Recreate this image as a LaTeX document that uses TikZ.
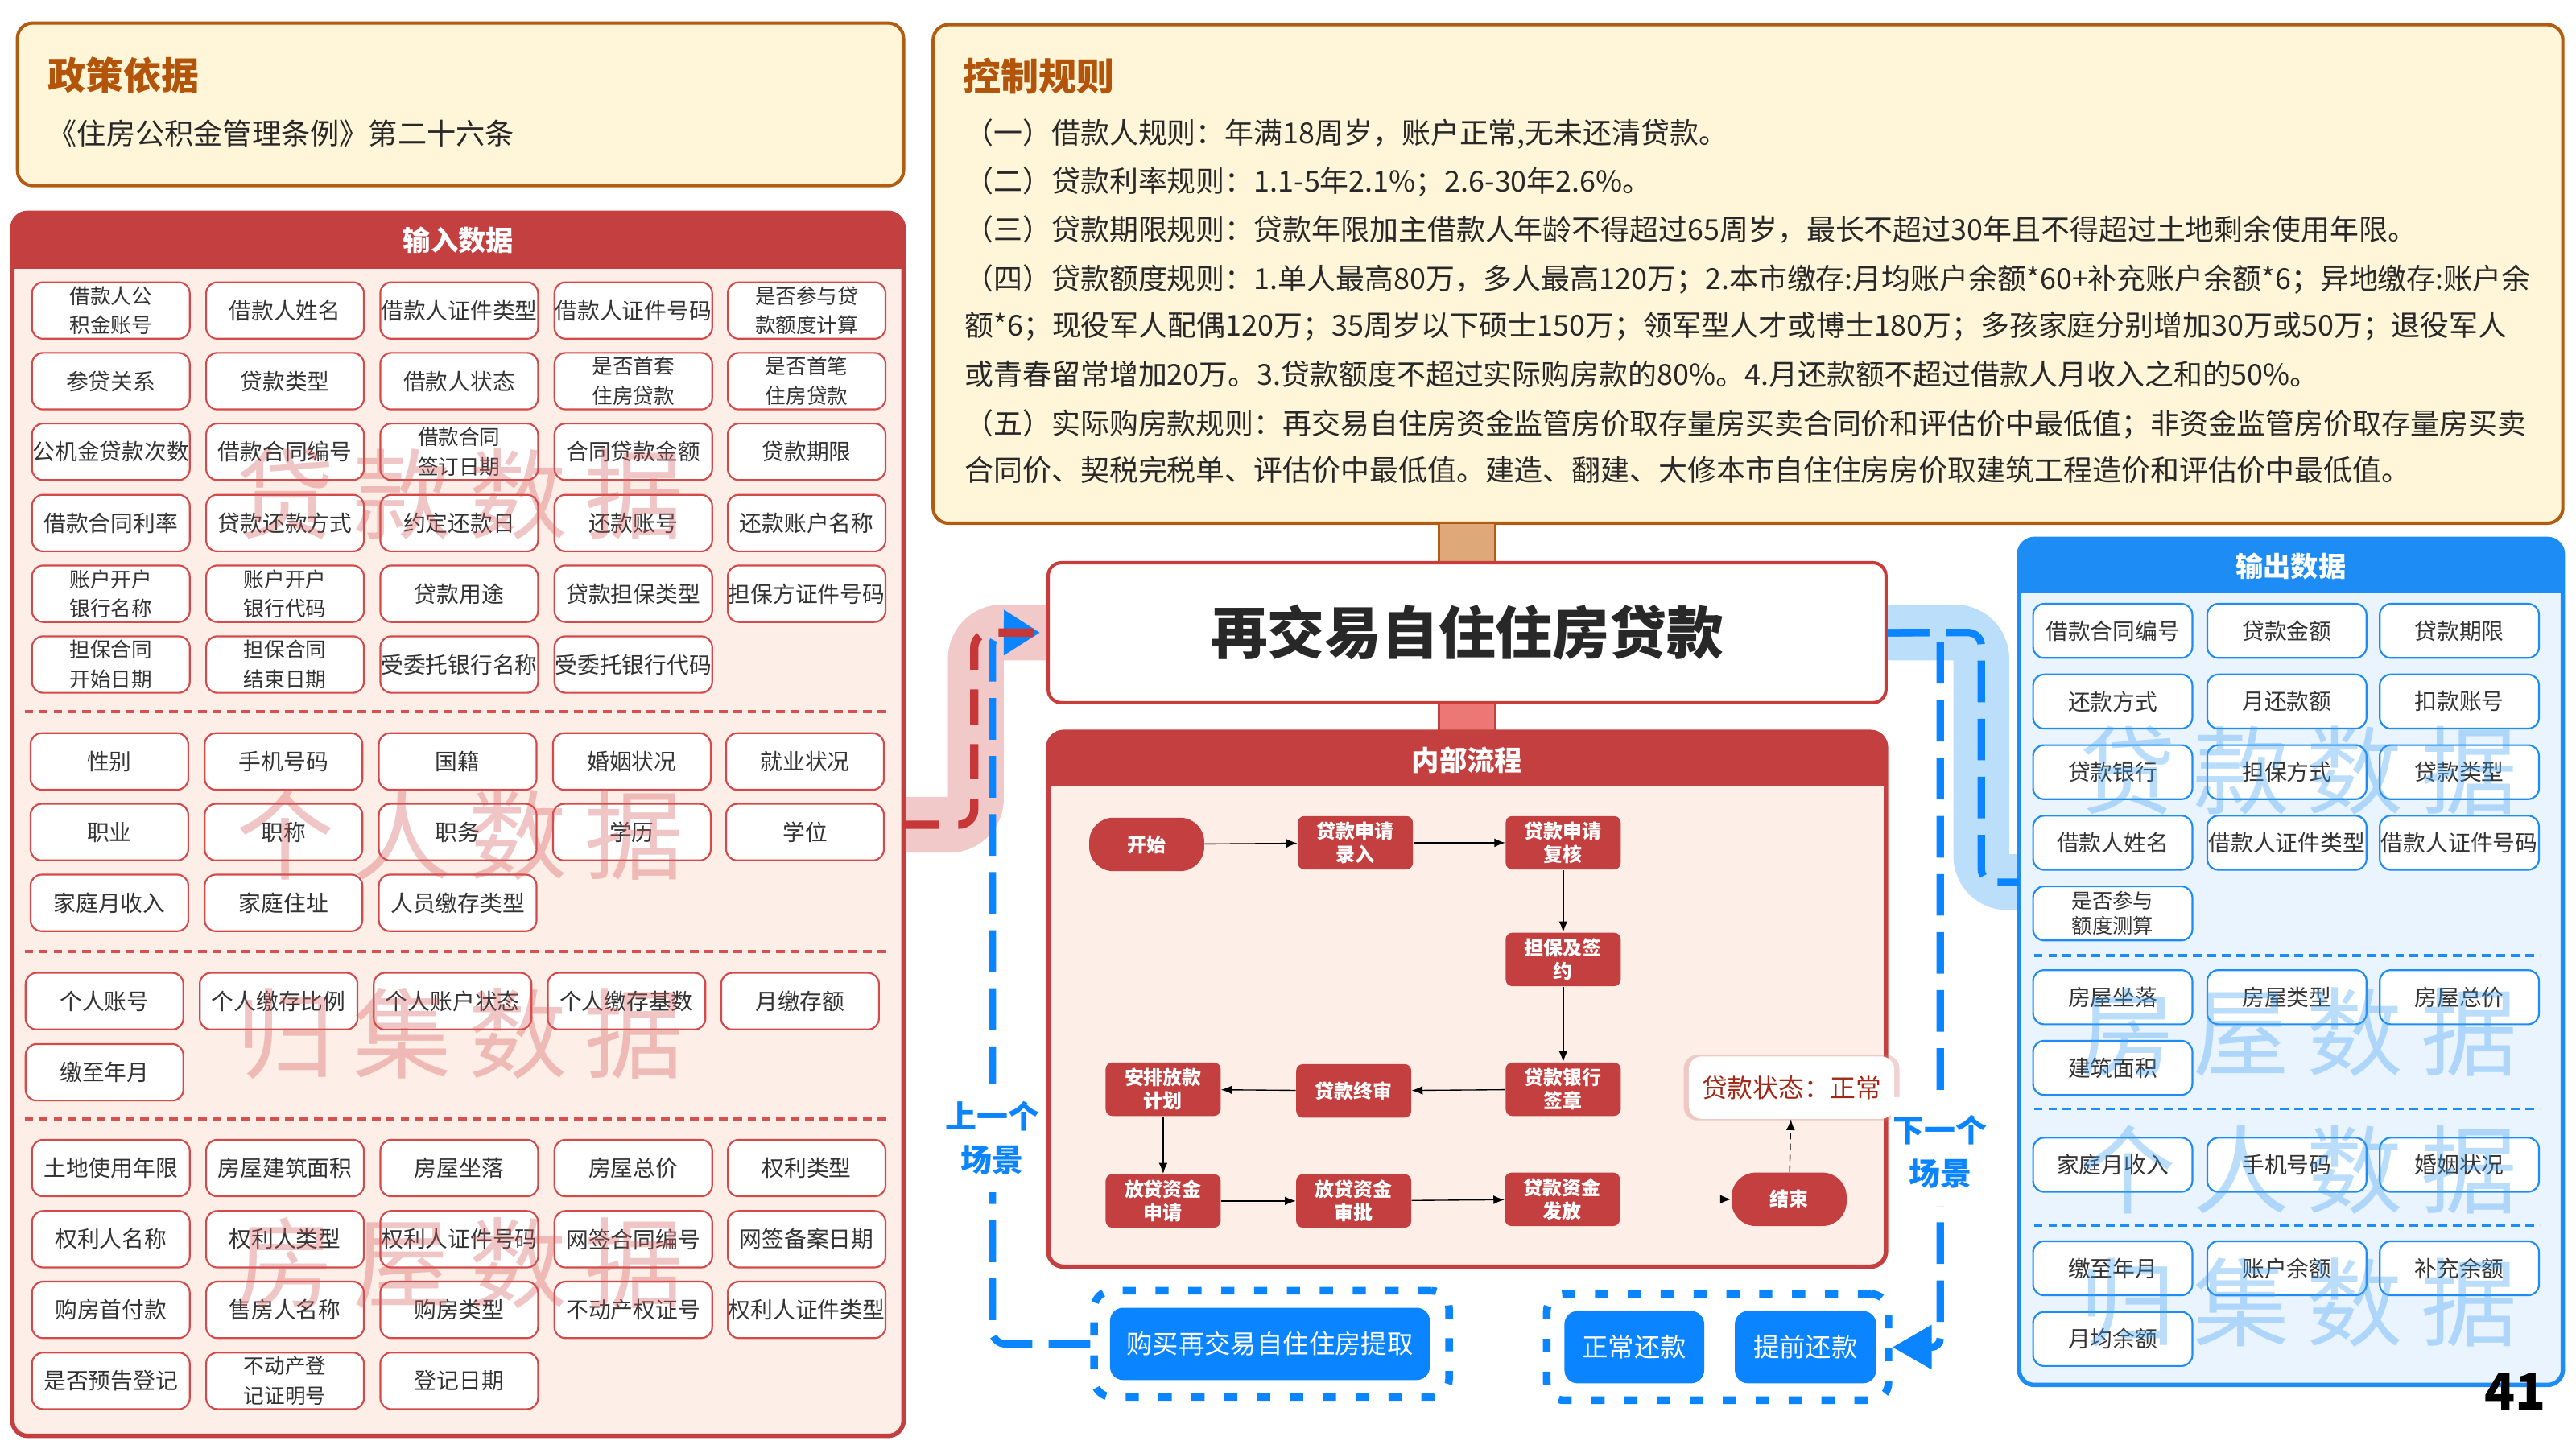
\documentclass[tikz,border=0pt]{standalone}
\usepackage{fontspec}
\setmainfont{Noto Sans CJK SC}
\usetikzlibrary{arrows.meta,shadows}

\begin{document}
\begin{tikzpicture}[x=0.75pt,y=0.75pt,yscale=-1,xscale=1,
        ibox/.style={draw={rgb, 255:red, 212; green, 74; blue, 74 }, line width=0.8pt, fill=white, rounded corners=5pt, minimum width=72pt, minimum height=25.8pt, inner sep=0pt, align=center, text={rgb, 255:red, 51; green, 51; blue, 51 }, font=\fontsize{10.2pt}{12pt}\selectfont},
        twoline/.style={font=\fontsize{9.4pt}{13.4pt}\selectfont},
        obox/.style={ibox, draw={rgb, 255:red, 30; green, 140; blue, 245 }, minimum width=72.7pt, minimum height=24.7pt},
        pbox/.style={fill={rgb, 255:red, 196; green, 64; blue, 64 }, rounded corners=3pt, minimum width=52.5pt, minimum height=24.4pt, inner sep=0pt, align=center, text=white, font=\bfseries\fontsize{8.8pt}{10.6pt}\selectfont},
        pend/.style={pbox, rounded corners=11pt},
        bbox/.style={fill={rgb, 255:red, 10; green, 132; blue, 255 }, rounded corners=6pt, minimum height=33pt, inner sep=0pt, text=white, font=\fontsize{11.9pt}{14pt}\selectfont},
        grpbox/.style={draw={rgb, 255:red, 10; green, 132; blue, 255 }, fill=white, line width=3.5pt, dash pattern=on 6pt off 9pt, rounded corners=8pt, minimum height=48.5pt},
        flow/.style={line width=0.5pt, -{Latex[length=5pt,width=4pt]}},
        redline/.style={draw={rgb, 255:red, 200; green, 55; blue, 55 }, line width=3.8pt, dash pattern=on 16pt off 9pt, rounded corners=7pt},
        blueline/.style={draw={rgb, 255:red, 10; green, 132; blue, 255 }, line width=3.4pt, dash pattern=on 19pt off 7.5pt, rounded corners=6pt},
        scene/.style={fill=white, inner xsep=1pt, inner ysep=8pt, align=center, text={rgb, 255:red, 10; green, 132; blue, 255 }, font=\bfseries\fontsize{14.3pt}{19.9pt}\selectfont},
        wmred/.style={text={rgb, 255:red, 214; green, 90; blue, 90 }, text opacity=0.35, font=\fontsize{45pt}{50pt}\selectfont},
        wmblue/.style={text={rgb, 255:red, 60; green, 160; blue, 245 }, text opacity=0.35, font=\fontsize{44pt}{50pt}\selectfont},
        sepred/.style={draw={rgb, 255:red, 214; green, 80; blue, 80 }, line width=1.4pt, dash pattern=on 4pt off 2.6pt},
        sepblue/.style={sepred, draw={rgb, 255:red, 30; green, 140; blue, 245 }},
        head/.style={text=white, font=\bfseries\fontsize{12.6pt}{14pt}\selectfont},
        rule/.style={anchor=west, inner sep=0pt, text={rgb, 255:red, 40; green, 40; blue, 40 }, font=\fontsize{13.2pt}{15pt}\selectfont},
        brown title/.style={anchor=west, inner sep=0pt, text={rgb, 255:red, 178; green, 84; blue, 10 }, font=\bfseries\fontsize{17.3pt}{20pt}\selectfont}
    ]
        \useasboundingbox (0,0) rectangle (1568,882);
        \coordinate (redin) at (550,502);
        \coordinate (outin) at (1229,537);
        \coordinate (tw) at (638,385);
        \coordinate (te) at (1148,385);

        % bands behind the links
        \draw [line width=25.5pt, color={rgb, 255:red, 242; green, 201; blue, 201 }, rounded corners=12pt] (redin) -- (594,502) -- (594,385) -- (tw);
        \draw [line width=25.5pt, color={rgb, 255:red, 187; green, 222; blue, 251 }, rounded corners=12pt] (te) -- (1206,385) -- (1206,537) -- (outin);

        % policy and rules
        \draw [draw={rgb, 255:red, 178; green, 92; blue, 18 }, fill={rgb, 255:red, 255; green, 246; blue, 217 }, line width=1.5pt, rounded corners=7pt] (10.6,14) rectangle (550,113);
        \node (policyt) [brown title] at (29,46) {政策依据};
        \node (policy) [rule, font=\fontsize{13.3pt}{15pt}\selectfont] at (29,81) {《住房公积金管理条例》第二十六条};

        \draw [draw={rgb, 255:red, 178; green, 92; blue, 18 }, fill={rgb, 255:red, 255; green, 246; blue, 217 }, line width=1.5pt, rounded corners=7pt] (568,15) rectangle (1560,318.5);
        \node (rulest) [brown title] at (586,46.5) {控制规则};
        \node (r1) [rule] at (587,81.8) {（一）借款人规则：年满18周岁，账户正常,无未还清贷款。};
        \node (r2) [rule] at (587,110.7) {（二）贷款利率规则：1.1-5年2.1\%；2.6-30年2.6\%。};
        \node (r3) [rule] at (587,139.7) {（三）贷款期限规则：贷款年限加主借款人年龄不得超过65周岁，最长不超过30年且不得超过土地剩余使用年限。};
        \node (r4) [rule] at (587,169.8) {（四）贷款额度规则：1.单人最高80万，多人最高120万；2.本市缴存:月均账户余额*60+补充账户余额*6；异地缴存:账户余};
        \node (r5) [rule] at (587,198.7) {额*6；现役军人配偶120万；35周岁以下硕士150万；领军型人才或博士180万；多孩家庭分别增加30万或50万；退役军人};
        \node (r6) [rule] at (587,227.7) {或青春留常增加20万。3.贷款额度不超过实际购房款的80\%。4.月还款额不超过借款人月收入之和的50\%。};
        \node (r7) [rule] at (587,258.2) {（五）实际购房款规则：再交易自住房资金监管房价取存量房买卖合同价和评估价中最低值；非资金监管房价取存量房买卖};
        \node (r8) [rule] at (587,286) {合同价、契税完税单、评估价中最低值。建造、翻建、大修本市自住住房房价取建筑工程造价和评估价中最低值。};

        \draw [fill={rgb, 255:red, 222; green, 168; blue, 120 }, draw={rgb, 255:red, 178; green, 92; blue, 18 }, line width=1pt] (876,318.5) rectangle (910,342.5);
        \draw [fill={rgb, 255:red, 236; green, 120; blue, 118 }, draw={rgb, 255:red, 196; green, 64; blue, 64 }, line width=1pt] (876,427.7) rectangle (910,445.5);

        % input panel
        \fill [fill={rgb, 255:red, 253; green, 238; blue, 232 }, rounded corners=7pt] (7.5,129.5) rectangle (550,874);
        \fill [fill={rgb, 255:red, 196; green, 64; blue, 64 }, rounded corners=7pt] (7.5,129.5) rectangle (550,163.5);
        \fill [fill={rgb, 255:red, 196; green, 64; blue, 64 }] (7.5,145) rectangle (550,163.5);
        \draw [draw={rgb, 255:red, 196; green, 64; blue, 64 }, line width=2pt, rounded corners=7pt] (7.5,129.5) rectangle (550,874);
        \node (inhead) [head] at (279,146) {输入数据};

        \node (ia1) [ibox, twoline] at (67.5,189) {借款人公\\积金账号};
        \node (ia2) [ibox] at (173.5,189) {借款人姓名};
        \node (ia3) [ibox] at (279.5,189) {借款人证件类型};
        \node (ia4) [ibox] at (385.5,189) {借款人证件号码};
        \node (ia5) [ibox, twoline] at (491,189) {是否参与贷\\款额度计算};
        \node (ib1) [ibox] at (67.5,232) {参贷关系};
        \node (ib2) [ibox] at (173.5,232) {贷款类型};
        \node (ib3) [ibox] at (279.5,232) {借款人状态};
        \node (ib4) [ibox, twoline] at (385.5,232) {是否首套\\住房贷款};
        \node (ib5) [ibox, twoline] at (491,232) {是否首笔\\住房贷款};
        \node (ic1) [ibox] at (67.5,275) {公机金贷款次数};
        \node (ic2) [ibox] at (173.5,275) {借款合同编号};
        \node (ic3) [ibox, twoline] at (279.5,275) {借款合同\\签订日期};
        \node (ic4) [ibox] at (385.5,275) {合同贷款金额};
        \node (ic5) [ibox] at (491,275) {贷款期限};
        \node (id1) [ibox] at (67.5,318.4) {借款合同利率};
        \node (id2) [ibox] at (173.5,318.4) {贷款还款方式};
        \node (id3) [ibox] at (279.5,318.4) {约定还款日};
        \node (id4) [ibox] at (385.5,318.4) {还款账号};
        \node (id5) [ibox] at (491,318.4) {还款账户名称};
        \node (ie1) [ibox, twoline] at (67.5,361.4) {账户开户\\银行名称};
        \node (ie2) [ibox, twoline] at (173.5,361.4) {账户开户\\银行代码};
        \node (ie3) [ibox] at (279.5,361.4) {贷款用途};
        \node (ie4) [ibox] at (385.5,361.4) {贷款担保类型};
        \node (ie5) [ibox] at (491,361.4) {担保方证件号码};
        \node (if1) [ibox, twoline] at (67.5,404.5) {担保合同\\开始日期};
        \node (if2) [ibox, twoline] at (173.5,404.5) {担保合同\\结束日期};
        \node (if3) [ibox] at (279.5,404.5) {受委托银行名称};
        \node (if4) [ibox] at (385.5,404.5) {受委托银行代码};

        \draw [sepred] (15,433) -- (540,433);
        \node (pa1) [ibox] at (66.6,463.5) {性别};
        \node (pa2) [ibox] at (172.6,463.5) {手机号码};
        \node (pa3) [ibox] at (278.6,463.5) {国籍};
        \node (pa4) [ibox] at (384.6,463.5) {婚姻状况};
        \node (pa5) [ibox] at (490,463.5) {就业状况};
        \node (pb1) [ibox] at (66.6,506.5) {职业};
        \node (pb2) [ibox] at (172.6,506.5) {职称};
        \node (pb3) [ibox] at (278.6,506.5) {职务};
        \node (pb4) [ibox] at (384.6,506.5) {学历};
        \node (pb5) [ibox] at (490,506.5) {学位};
        \node (pc1) [ibox] at (66.6,549.6) {家庭月收入};
        \node (pc2) [ibox] at (172.6,549.6) {家庭住址};
        \node (pc3) [ibox] at (278.6,549.6) {人员缴存类型};

        \draw [sepred] (15,579) -- (540,579);
        \node (fa1) [ibox] at (63.6,609.4) {个人账号};
        \node (fa2) [ibox] at (169.6,609.4) {个人缴存比例};
        \node (fa3) [ibox] at (275.5,609.4) {个人账户状态};
        \node (fa4) [ibox] at (381.4,609.4) {个人缴存基数};
        \node (fa5) [ibox] at (487,609.4) {月缴存额};
        \node (fb1) [ibox] at (63.6,652.7) {缴至年月};

        \draw [sepred] (15,681) -- (540,681);
        \node (ha1) [ibox] at (67.5,711) {土地使用年限};
        \node (ha2) [ibox] at (173.5,711) {房屋建筑面积};
        \node (ha3) [ibox] at (279.5,711) {房屋坐落};
        \node (ha4) [ibox] at (385.5,711) {房屋总价};
        \node (ha5) [ibox] at (491,711) {权利类型};
        \node (hb1) [ibox] at (67.5,754.3) {权利人名称};
        \node (hb2) [ibox] at (173.5,754.3) {权利人类型};
        \node (hb3) [ibox] at (279.5,754.3) {权利人证件号码};
        \node (hb4) [ibox] at (385.5,754.3) {网签合同编号};
        \node (hb5) [ibox] at (491,754.3) {网签备案日期};
        \node (hc1) [ibox] at (67.5,797.3) {购房首付款};
        \node (hc2) [ibox] at (173.5,797.3) {售房人名称};
        \node (hc3) [ibox] at (279.5,797.3) {购房类型};
        \node (hc4) [ibox] at (385.5,797.3) {不动产权证号};
        \node (hc5) [ibox] at (491,797.3) {权利人证件类型};
        \node (hd1) [ibox] at (67.5,840.5) {是否预告登记};
        \node (hd2) [ibox, twoline] at (173.5,840.5) {不动产登\\记证明号};
        \node (hd3) [ibox] at (279.5,840.5) {登记日期};

        % output panel
        \fill [fill={rgb, 255:red, 234; green, 244; blue, 254 }, rounded corners=7pt] (1229,328) rectangle (1560,843);
        \fill [fill={rgb, 255:red, 30; green, 140; blue, 245 }, rounded corners=7pt] (1229,328) rectangle (1560,361);
        \fill [fill={rgb, 255:red, 30; green, 140; blue, 245 }] (1229,345) rectangle (1560,361);
        \draw [draw={rgb, 255:red, 30; green, 140; blue, 245 }, line width=2pt, rounded corners=7pt] (1229,328) rectangle (1560,843);
        \node (outhead) [head] at (1394.5,344.5) {输出数据};

        \node (oa1) [obox] at (1286,384) {借款合同编号};
        \node (oa2) [obox] at (1392,384) {贷款金额};
        \node (oa3) [obox] at (1497,384) {贷款期限};
        \node (ob1) [obox] at (1286,427) {还款方式};
        \node (ob2) [obox] at (1392,427) {月还款额};
        \node (ob3) [obox] at (1497,427) {扣款账号};
        \node (oc1) [obox] at (1286,470) {贷款银行};
        \node (oc2) [obox] at (1392,470) {担保方式};
        \node (oc3) [obox] at (1497,470) {贷款类型};
        \node (od1) [obox] at (1286,513) {借款人姓名};
        \node (od2) [obox] at (1392,513) {借款人证件类型};
        \node (od3) [obox] at (1497,513) {借款人证件号码};
        \node (oe1) [obox, font=\fontsize{9.3pt}{11.4pt}\selectfont] at (1286,556) {是否参与\\额度测算};
        \draw [sepblue] (1238,581.6) -- (1546,581.6);
        \node (of1) [obox] at (1286,607) {房屋坐落};
        \node (of2) [obox] at (1392,607) {房屋类型};
        \node (of3) [obox] at (1497,607) {房屋总价};
        \node (og1) [obox] at (1286,650) {建筑面积};
        \draw [sepblue] (1238,675) -- (1546,675);
        \node (oh1) [obox] at (1286,709) {家庭月收入};
        \node (oh2) [obox] at (1392,709) {手机号码};
        \node (oh3) [obox] at (1497,709) {婚姻状况};
        \draw [sepblue] (1238,746) -- (1546,746);
        \node (oi1) [obox] at (1286,772) {缴至年月};
        \node (oi2) [obox] at (1392,772) {账户余额};
        \node (oi3) [obox] at (1497,772) {补充余额};
        \node (oj1) [obox] at (1286,815) {月均余额};

        % title and inner flow
        \node (title) [draw={rgb, 255:red, 200; green, 60; blue, 60 }, line width=1.5pt, fill=white, rounded corners=6pt, minimum width=382.5pt, minimum height=63.9pt, text={rgb, 255:red, 40; green, 40; blue, 40 }, font=\bfseries\fontsize{26pt}{30pt}\selectfont] at (893,385.1) {再交易自住住房贷款};

        \fill [fill={rgb, 255:red, 253; green, 238; blue, 232 }, rounded corners=7pt] (638,445.5) rectangle (1148,771);
        \fill [fill={rgb, 255:red, 196; green, 64; blue, 64 }, rounded corners=7pt] (638,445.5) rectangle (1148,478);
        \fill [fill={rgb, 255:red, 196; green, 64; blue, 64 }] (638,462) rectangle (1148,478);
        \draw [draw={rgb, 255:red, 196; green, 64; blue, 64 }, line width=2pt, rounded corners=7pt] (638,445.5) rectangle (1148,771);
        \node (flowhead) [head] at (893,462.5) {内部流程};

        \node (start) [pend] at (698,514) {开始};
        \node (apply) [pbox] at (825,513) {贷款申请\\录入};
        \node (review) [pbox] at (951.5,513) {贷款申请\\复核};
        \node (sign) [pbox] at (951.5,584) {担保及签\\约};
        \node (stamp) [pbox] at (951.5,663) {贷款银行\\签章};
        \node (final) [pbox] at (824,664) {贷款终审};
        \node (plan) [pbox] at (708,663) {安排放款\\计划};
        \node (req) [pbox] at (708,731) {放贷资金\\申请};
        \node (appr) [pbox] at (824,731) {放贷资金\\审批};
        \node (pay) [pbox] at (951,730) {贷款资金\\发放};
        \node (finish) [pend] at (1089,730) {结束};
        \node (status) [fill=white, rounded corners=6pt, minimum width=93.8pt, minimum height=28.5pt, text={rgb, 255:red, 160; green, 40; blue, 20 }, font=\fontsize{11.7pt}{14pt}\selectfont, drop shadow={shadow xshift=0pt, shadow yshift=0pt, shadow scale=1.05, opacity=0.35, fill={rgb, 255:red, 210; green, 130; blue, 130 }}] at (1090.5,662) {贷款状态：正常};

        \draw [flow] (start) -- (apply);
        \draw [flow] (apply) -- (review);
        \draw [flow] (review) -- (sign);
        \draw [flow] (sign) -- (stamp);
        \draw [flow] (stamp) -- (final);
        \draw [flow] (final) -- (plan);
        \draw [flow] (plan) -- (req);
        \draw [flow] (req) -- (appr);
        \draw [flow] (appr) -- (pay);
        \draw [flow] (pay) -- (finish);
        \draw [flow, dash pattern=on 3pt off 2pt] (finish) -- (status);

        % scenes below
        \node (grp1) [grpbox, minimum width=162pt] at (774,818) {};
        \node (buy) [bbox, minimum width=146pt] at (773,818) {购买再交易自住住房提取};
        \node (grp2) [grpbox, minimum width=156pt] at (1045.5,820) {};
        \node (normal) [bbox, minimum width=63.8pt] at (994.8,820) {正常还款};
        \node (early) [bbox, minimum width=64.5pt] at (1099,820) {提前还款};

        % links between the parts
        \draw [blueline, -{Triangle[length=16.5pt,width=20pt]}, shorten >=3pt] (grp1.west) -- (604,818) -- (604,385) -- (title.west);
        \draw [redline] (redin) -- (593,502) -- (593,385) -- (title.west);
        \draw [blueline] (title.east) -- (1206,385) -- (1206,537) -- (outin);
        \draw [blueline, rounded corners=4pt, -{Triangle[length=18pt,width=19.5pt]}] (title.east) -- (1181,385) -- (1181,820) -- (grp2.east);
        \node (prev) [scene] at (604,692.8) {上一个\\场景};
        \node (next) [scene] at (1181,701) {下一个\\场景};

        % watermarks
        \node (wm1) [wmred] at (280,301) {贷\hspace{8pt}款\hspace{8pt}数\hspace{8pt}据};
        \node (wm2) [wmred] at (280,508) {个\hspace{8pt}人\hspace{8pt}数\hspace{8pt}据};
        \node (wm3) [wmred] at (280,629) {归\hspace{8pt}集\hspace{8pt}数\hspace{8pt}据};
        \node (wm4) [wmred] at (280,769) {房\hspace{8pt}屋\hspace{8pt}数\hspace{8pt}据};
        \node (wm5) [wmblue] at (1399,469) {贷\hspace{8pt}款\hspace{8pt}数\hspace{8pt}据};
        \node (wm6) [wmblue] at (1399,628) {房\hspace{8pt}屋\hspace{8pt}数\hspace{8pt}据};
        \node (wm7) [wmblue] at (1399,712) {个\hspace{8pt}人\hspace{8pt}数\hspace{8pt}据};
        \node (wm8) [wmblue] at (1399,793) {归\hspace{8pt}集\hspace{8pt}数\hspace{8pt}据};

        \node (page) [font=\bfseries\fontsize{23pt}{26pt}\selectfont] at (1531,847) {41};
    \end{tikzpicture}
\end{document}
